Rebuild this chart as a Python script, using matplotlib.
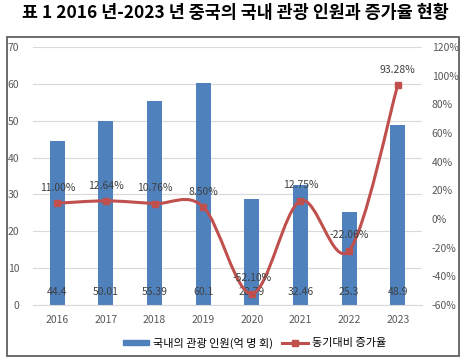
import numpy as np
import matplotlib
matplotlib.use("Agg")
import matplotlib.pyplot as plt
from matplotlib.path import Path
from matplotlib.patches import PathPatch, Rectangle
from matplotlib.lines import Line2D
from matplotlib.patches import Patch

plt.rcParams['font.family'] = ['Noto Sans CJK KR', 'DejaVu Sans']

years = ['2016', '2017', '2018', '2019', '2020', '2021', '2022', '2023']
visitors = [44.4, 50.01, 55.39, 60.1, 28.79, 32.46, 25.3, 48.9]
growth = [11.00, 12.64, 10.76, 8.50, -52.10, 12.75, -22.06, 93.28]
growth_labels = ['11.00%', '12.64%', '10.76%', '8.50%', '-52.10%', '12.75%', '-22.06%', '93.28%']

title = '표 1 2016 년-2023 년 중국의 국내 관광 인원과 증가율 현황'
bar_name = '국내의 관광 인원(억 명 회)'
line_name = '동기대비 증가율'

blue = '#4F81BD'
red = '#C0504D'
txt = '#595959'

fig = plt.figure(figsize=(4.71, 3.64), dpi=100)
fig.text(0.5, 0.965, title, ha='center', va='center', fontsize=12.5, fontweight='bold')

# chart frame
fig.patches.append(Rectangle((7 / 471, 1 - 356 / 364), 452 / 471, 319 / 364,
                             transform=fig.transFigure, fill=False,
                             edgecolor='#606060', lw=1.3))

ax = fig.add_axes([33 / 471, 1 - 305 / 364, 389 / 471, 258 / 364])
x = np.arange(len(years))
ax.bar(x, visitors, width=0.31, color=blue, zorder=2)
ax.set_ylim(0, 70)
ax.set_xlim(-0.5, len(years) - 0.5)
ax.set_yticks(range(0, 71, 10))
ax.set_xticks(x)
ax.set_xticklabels(years)
ax.grid(axis='y', color='#D9D9D9', lw=0.8, zorder=0)
for s in ['top', 'left', 'right']:
    ax.spines[s].set_visible(False)
ax.spines['bottom'].set_color('#D9D9D9')
ax.tick_params(length=0, labelsize=7.5, colors=txt, pad=7)
ax.tick_params(axis='y', pad=10)
for i, v in enumerate(visitors):
    ax.text(i, 3.6, f'{v:g}', ha='center', va='center', fontsize=7.5, color='#404040', zorder=3)

ax2 = ax.twinx()
ax2.set_ylim(-60, 120)
ax2.set_yticks(range(-60, 121, 20))
ax2.set_yticklabels([f'{t}%' for t in range(-60, 121, 20)])
for s in ax2.spines.values():
    s.set_visible(False)
ax2.tick_params(length=0, labelsize=7.5, colors=txt, pad=7)

# smoothed line (Catmull-Rom as bezier, like Excel's smooth line)
pts = np.column_stack([x, growth]).astype(float)
verts = [pts[0]]
codes = [Path.MOVETO]
n = len(pts)
for i in range(n - 1):
    p0 = pts[max(i - 1, 0)]
    p1 = pts[i]
    p2 = pts[i + 1]
    p3 = pts[min(i + 2, n - 1)]
    verts += [p1 + (p2 - p0) / 6, p2 - (p3 - p1) / 6, p2]
    codes += [Path.CURVE4] * 3
ax2.add_patch(PathPatch(Path(verts, codes), fill=False, edgecolor=red, lw=2.2, zorder=3))
ax2.plot(x, growth, ls='none', marker='s', ms=5, color=red, zorder=4)
for i, lab in enumerate(growth_labels):
    ax2.annotate(lab, (i, growth[i]), xytext=(0, 11), textcoords='offset points',
                 ha='center', va='center', fontsize=7.5, color='#404040')

handles = [Patch(color=blue), Line2D([], [], color=red, lw=2.2, marker='s', ms=4)]
fig.legend(handles, [bar_name, line_name], loc='center', bbox_to_anchor=(0.54, 1 - 343 / 364),
           ncol=2, frameon=False, fontsize=8, handlelength=2.4, handleheight=0.35,
           columnspacing=0.8, handletextpad=0.3)

fig.savefig('out.png', dpi=100)
